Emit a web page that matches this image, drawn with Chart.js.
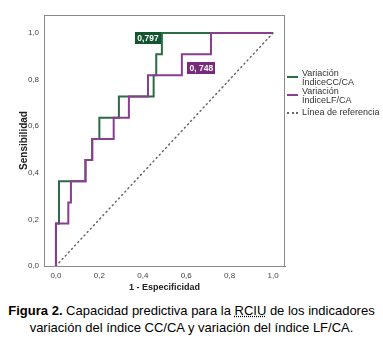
<!DOCTYPE html>
<html>
<head>
<meta charset="utf-8">
<script src="https://cdn.jsdelivr.net/npm/chart.js@4"></script>
<style>
  body { margin: 0; background: #fff; font-family: "Liberation Sans", Arial, sans-serif; }
  #grafico { position: absolute; left: 0; top: 0; width: 383px; height: 295px; }
  .leyenda { position: absolute; left: 287px; font-size: 9px; line-height: 9px; color: #333; }
  .leyenda .linea { position: absolute; left: 0; width: 11px; height: 0; }
  .leyenda .texto { position: absolute; left: 15px; white-space: nowrap; }
  #pie { position: absolute; left: 0; top: 302px; width: 383px; text-align: center; font-size: 13px; line-height: 17px; color: #000; white-space: nowrap; }
  #pie u { text-decoration: underline dotted; }
</style>
</head>
<body>
<div id="grafico"><canvas id="roc" width="383" height="295"></canvas></div>

<div class="leyenda" style="top:69px">
  <div class="linea" style="top:7px; border-top:2px solid #2b6b45"></div>
  <div class="texto" style="top:0">Variación<br>ÍndiceCC/CA</div>
</div>
<div class="leyenda" style="top:87px">
  <div class="linea" style="top:7px; border-top:2px solid #8b3d8f"></div>
  <div class="texto" style="top:0">Variación<br>ÍndiceLF/CA</div>
</div>
<div class="leyenda" style="top:108px">
  <div class="linea" style="top:4px; border-top:2px dotted #666"></div>
  <div class="texto" style="top:0">Línea de referencia</div>
</div>

<div id="pie"><b>Figura 2.</b> Capacidad predictiva para la <u>RCIU</u> de los indicadores<br>variación del índice CC/CA y variación del índice LF/CA.</div>

<script>
// Curva ROC
const fprCC = [0, 0, 0.014, 0.014, 0.136, 0.136, 0.167, 0.167, 0.2, 0.2, 0.29, 0.29, 0.45, 0.45, 0.462, 0.462, 0.488, 0.488, 1];
const tprCC = [0, 0.182, 0.182, 0.364, 0.364, 0.455, 0.455, 0.545, 0.545, 0.636, 0.636, 0.727, 0.727, 0.818, 0.818, 0.909, 0.909, 1, 1];

const fprLF = [0, 0, 0.057, 0.057, 0.069, 0.069, 0.136, 0.136, 0.167, 0.167, 0.266, 0.266, 0.336, 0.336, 0.424, 0.424, 0.58, 0.58, 0.714, 0.714, 1];
const tprLF = [0, 0.182, 0.182, 0.273, 0.273, 0.364, 0.364, 0.455, 0.455, 0.545, 0.545, 0.636, 0.636, 0.727, 0.727, 0.818, 0.818, 0.909, 0.909, 1, 1];

const referencia = [0, 1];
const ticks = [0, 0.2, 0.4, 0.6, 0.8, 1.0];
const aucTextos = ['0,797', '0, 748'];

const corVerde = '#2b6b45';
const corRoxa = '#8b3d8f';
const fonte = '"Liberation Sans", Arial, sans-serif';

function pontos(xs, ys) {
    return xs.map((x, i) => ({ x: x, y: ys[i] }));
}

function rotulo(v) {
    return v.toFixed(1).replace('.', ',');
}

// moldura + caixas com a AUC
const molduraPlugin = {
    id: 'moldura',
    afterDraw(chart) {
        const ctx = chart.ctx;
        const a = chart.chartArea;
        const sx = chart.scales.x, sy = chart.scales.y;
        ctx.save();
        ctx.strokeStyle = '#8a8a8a';
        ctx.lineWidth = 1;
        ctx.strokeRect(a.left + 0.5, a.top + 0.5, a.right - a.left - 1, a.bottom - a.top);

        const caixas = [
            { txt: aucTextos[0], x: 0.424, y: 0.979, cor: '#13552f' },
            { txt: aucTextos[1], x: 0.67, y: 0.849, cor: '#7a2a7c' }
        ];
        ctx.font = 'bold 8.5px ' + fonte;
        ctx.textAlign = 'center';
        ctx.textBaseline = 'middle';
        caixas.forEach(c => {
            const px = sx.getPixelForValue(c.x);
            const py = sy.getPixelForValue(c.y);
            const w = Math.ceil(ctx.measureText(c.txt).width) + 4;
            ctx.fillStyle = c.cor;
            ctx.fillRect(Math.round(px - w / 2), Math.round(py - 6), w, 12);
            ctx.fillStyle = '#fff';
            ctx.fillText(c.txt, px, py + 0.5);
        });
        ctx.restore();
    }
};

new Chart(document.getElementById('roc'), {
    type: 'line',
    data: {
        datasets: [
            {
                label: 'Línea de referencia',
                data: pontos(referencia, referencia),
                borderColor: '#666',
                borderWidth: 1.5,
                borderDash: [1, 3.6],
                borderCapStyle: 'round',
                pointRadius: 0,
                order: 3
            },
            {
                label: 'Variación ÍndiceCC/CA',
                data: pontos(fprCC, tprCC),
                borderColor: corVerde,
                borderWidth: 2,
                pointRadius: 0,
                order: 2
            },
            {
                label: 'Variación ÍndiceLF/CA',
                data: pontos(fprLF, tprLF),
                borderColor: corRoxa,
                borderWidth: 2,
                pointRadius: 0,
                order: 1
            }
        ]
    },
    options: {
        responsive: false,
        animation: false,
        layout: { padding: { left: 0, top: 15, right: 98, bottom: 0 } },
        plugins: { legend: { display: false }, tooltip: { enabled: false } },
        scales: {
            x: {
                type: 'linear',
                min: -0.055,
                max: 1.055,
                afterBuildTicks: s => { s.ticks = ticks.map(v => ({ value: v })); },
                afterFit: s => { s.height = 29; },
                grid: { display: false, drawTicks: true, tickLength: 4, tickColor: '#666' },
                border: { display: true, color: '#8a8a8a' },
                ticks: { callback: rotulo, color: '#444', font: { size: 8, family: fonte }, padding: 1, maxRotation: 0 },
                title: { display: true, text: '1 - Especificidad', color: '#222', font: { size: 9, weight: 'bold', family: fonte }, padding: { top: 2, bottom: 2 } }
            },
            y: {
                min: 0,
                max: 1.077,
                afterBuildTicks: s => { s.ticks = ticks.map(v => ({ value: v })); },
                afterFit: s => { s.width = 44; },
                grid: { display: false, drawTicks: true, tickLength: 4, tickColor: '#666' },
                border: { display: true, color: '#8a8a8a' },
                ticks: { callback: rotulo, color: '#444', font: { size: 8, family: fonte }, padding: 1 },
                title: { display: true, text: 'Sensibilidad', color: '#222', font: { size: 10, weight: 'bold', family: fonte }, padding: { top: 18, bottom: 0 } }
            }
        }
    },
    plugins: [molduraPlugin]
});
</script>
</body>
</html>
